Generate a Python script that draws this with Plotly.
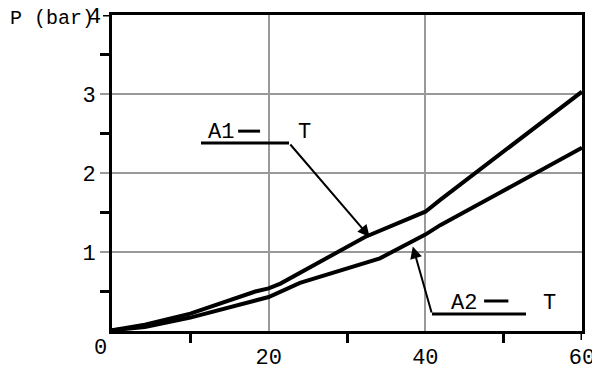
import plotly.graph_objects as go

# Data
t_a1 = [0, 4.2, 10, 18.3, 20, 21.5, 32.3, 40, 41.9, 49.5, 60]
p_a1 = [0.01, 0.08, 0.22, 0.50, 0.54, 0.60, 1.19, 1.51, 1.66, 2.23, 3.03]
t_a2 = [0, 4.2, 10, 20, 24, 34.2, 40, 41.9, 49.5, 60]
p_a2 = [0.01, 0.05, 0.17, 0.43, 0.61, 0.92, 1.22, 1.34, 1.75, 2.32]

x_ticks = [20, 40, 60]
x_tick_text = ["20", "40", "60"]
y_ticks = [1, 2, 3]
y_tick_text = ["1", "2", "3"]
y_top_label = "4"
x_minor = [10, 30, 50]
y_minor = [0.5, 1.5, 2.5, 3.5]

FONT = "Liberation Mono, Courier New, monospace"
FS = 22

# page has an 8px body margin: figure is 592x363 so it fills the 600x371 window
W, H = 592, 363
ML, MR, MT, MB = 104, 18, 7, 40
PW, PH = W - ML - MR, H - MT - MB

fig = go.Figure()
fig.add_trace(go.Scatter(x=t_a1, y=p_a1, mode="lines", line=dict(color="black", width=4), name="A1", showlegend=False))
fig.add_trace(go.Scatter(x=t_a2, y=p_a2, mode="lines", line=dict(color="black", width=4), name="A2", showlegend=False))

shapes = [
    # leader lines
    dict(type="line", xref="x", yref="y", x0=11.36, y0=2.38, x1=22.6, y1=2.38, line=dict(color="black", width=3)),
    dict(type="line", xref="x", yref="y", x0=40.85, y0=0.215, x1=52.85, y1=0.215, line=dict(color="black", width=3)),
    # dashes in labels
    dict(type="line", xref="x", yref="y", x0=16.1, y0=2.53, x1=18.9, y1=2.53, line=dict(color="black", width=3)),
    dict(type="line", xref="x", yref="y", x0=47.5, y0=0.38, x1=50.6, y1=0.38, line=dict(color="black", width=3)),
    # border extensions (right edge below axis, top edge left of axis)
    dict(type="line", xref="x", yref="paper", x0=60, y0=-9 / PH, x1=60, y1=0, line=dict(color="black", width=3)),
    dict(type="line", xref="paper", yref="y", x0=-9 / PW, y0=4, x1=0, y1=4, line=dict(color="black", width=3)),
]

annotations = [
    dict(x=32.9, y=1.19, ax=22.6, ay=2.38, xref="x", yref="y", axref="x", ayref="y",
         showarrow=True, arrowhead=2, arrowsize=1.2, arrowwidth=2, arrowcolor="black", text=""),
    dict(x=38.4, y=1.07, ax=40.85, ay=0.215, xref="x", yref="y", axref="x", ayref="y",
         showarrow=True, arrowhead=2, arrowsize=1.2, arrowwidth=2, arrowcolor="black", text=""),
    dict(x=13.9, y=2.51, xref="x", yref="y", text="A1", showarrow=False, font=dict(family=FONT, size=FS, color="black")),
    dict(x=24.6, y=2.51, xref="x", yref="y", text="T", showarrow=False, font=dict(family=FONT, size=FS, color="black")),
    dict(x=44.9, y=0.354, xref="x", yref="y", text="A2", showarrow=False, font=dict(family=FONT, size=FS, color="black")),
    dict(x=55.8, y=0.354, xref="x", yref="y", text="T", showarrow=False, font=dict(family=FONT, size=FS, color="black")),
    dict(x=-ML / PW, y=(PH - 4) / PH, xref="paper", yref="paper", xanchor="left", yanchor="middle",
         text="P (bar)", showarrow=False, font=dict(family=FONT, size=20, color="black")),
    dict(x=-18 / PW, y=(PH - 2) / PH, xref="paper", yref="paper", xanchor="center", yanchor="middle",
         text=y_top_label, showarrow=False, font=dict(family=FONT, size=FS, color="black")),
    dict(x=-12 / PW, y=-17 / PH, xref="paper", yref="paper", xanchor="center", yanchor="middle",
         text="0", showarrow=False, font=dict(family=FONT, size=FS, color="black")),
]

fig.update_layout(
    width=W, height=H,
    margin=dict(l=ML, r=MR, t=MT, b=MB, pad=0, autoexpand=False),
    paper_bgcolor="white", plot_bgcolor="white",
    font=dict(family=FONT, size=FS, color="black"),
    shapes=shapes, annotations=annotations,
    xaxis=dict(range=[0, 60], tickvals=x_ticks, ticktext=x_tick_text, automargin=False,
               showgrid=True, gridcolor="#999999", gridwidth=2,
               showline=True, linecolor="black", linewidth=3, mirror=True,
               ticks="outside", ticklen=4, tickcolor="rgba(0,0,0,0)",
               zeroline=False,
               minor=dict(tickvals=x_minor, ticks="outside", ticklen=9, tickwidth=3, tickcolor="black", showgrid=False)),
    yaxis=dict(range=[0, 4], tickvals=y_ticks, ticktext=y_tick_text, automargin=False,
               showgrid=True, gridcolor="#999999", gridwidth=2,
               showline=True, linecolor="black", linewidth=3, mirror=True,
               ticks="outside", ticklen=9, tickwidth=2, tickcolor="#999999",
               zeroline=False,
               minor=dict(tickvals=y_minor, ticks="outside", ticklen=9, tickwidth=3, tickcolor="black", showgrid=False)),
)

fig.write_html("out.html")
